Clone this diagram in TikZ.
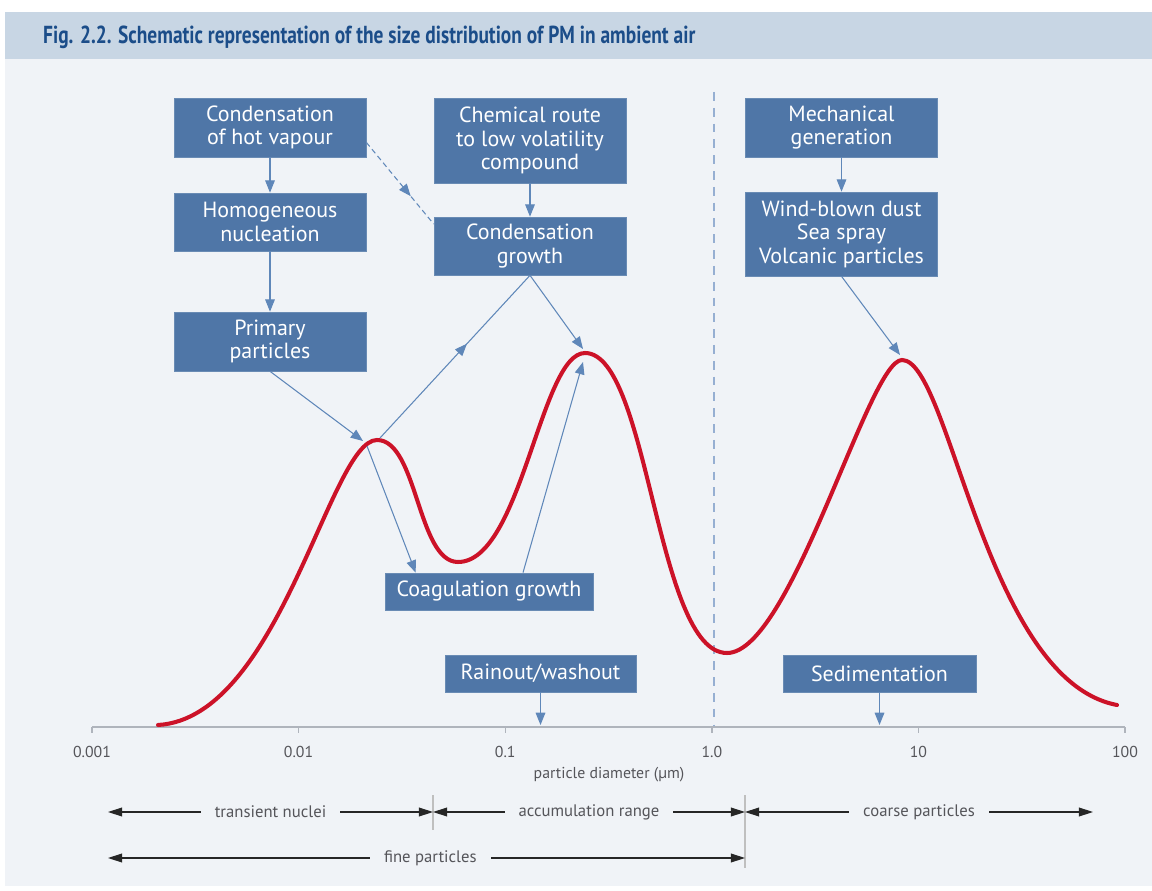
\documentclass[tikz,border=0pt]{standalone}
\usepackage{fontspec}
\setmainfont{PT Sans}
\newfontfamily\titlefont{PT Sans}[FakeStretch=0.79]
\usetikzlibrary{arrows.meta,calc,decorations.markings}
\definecolor{boxblue}{RGB}{79,118,167}
\definecolor{arrblue}{RGB}{95,135,185}
\definecolor{panelbg}{RGB}{240,243,247}
\definecolor{titlebg}{RGB}{200,214,228}
\definecolor{titleblue}{RGB}{27,77,137}
\definecolor{curvered}{RGB}{204,18,40}
\definecolor{dashblue}{RGB}{150,175,210}
\definecolor{axisgray}{RGB}{175,180,188}
\definecolor{labgray}{RGB}{85,85,90}
\begin{document}
\begin{tikzpicture}[x=0.02cm,y=-0.02cm,
  box/.style={fill=boxblue,draw=boxblue!85!white,text=white,align=center,minimum width=3.84cm,
    font=\fontsize{12.5}{13.4}\selectfont,inner sep=2pt},
  blu/.style={draw=arrblue,line width=0.6pt,-{Triangle[length=7pt,width=5.5pt]}},
  midarr/.style={draw=arrblue,line width=0.6pt,postaction={decorate},
    decoration={markings,mark=at position #1 with {\arrow{Triangle[length=7pt,width=5.5pt]}}}},
  spanarr/.style={draw=black!85,line width=0.6pt,{Triangle[length=8pt,width=5pt]}-{Triangle[length=8pt,width=5pt]}},
  rlab/.style={fill=panelbg,text=labgray,font=\fontsize{9.5}{11}\selectfont,inner xsep=8pt,inner ysep=1pt},
  ticklab/.style={text=labgray,font=\fontsize{9}{10}\selectfont}]
% Sfondo e titolo
\fill[white](0,0)rectangle(1152,891);
\fill[panelbg](5,12)rectangle(1152,886);
\fill[titlebg](5,12)rectangle(1152,59);
\node[anchor=west,text=titleblue,font=\titlefont\bfseries\fontsize{14}{16}\selectfont](title)at(37,37)
  {Fig. 2.2. Schematic representation of the size distribution of PM in ambient air};
% Linea tratteggiata a 1.0
\draw[dashblue,line width=0.8pt,dash pattern=on 5pt off 4pt](714,92)--(714,726);
% Asse
\draw[axisgray,line width=1pt](92,727)--(1125,727);
\foreach \i/\lab in {0/0.001,1/0.01,2/0.1,3/1.0,4/10,5/100}{
  \draw[axisgray,line width=0.8pt](92+206.6*\i,727)--(92+206.6*\i,733);
  \node[ticklab](tick \i)at(92+206.6*\i,752){\lab};}
\node[ticklab](axis label)at(609,775){particle diameter (µm)};
% Curva
\draw[curvered,line width=2.3pt,line cap=round](158,725)
  ..controls(280,718)and(330,440)..(377,440)
  ..controls(417.5,440)and(417.5,562)..(458,562)
  ..controls(521.5,562)and(540.5,353)..(585,353)
  ..controls(649,353)and(656,653)..(727,653)
  ..controls(791,653)and(868.6,360)..(902,360)
  ..controls(950,360)and(985,680)..(1117,705);
\coordinate(peak1)at(363,441);
\coordinate(peak2)at(583,349);
\coordinate(peak3)at(900,355);
% Nodi
\draw(270,127.5)node[box,minimum height=1.18cm](node cond){Condensation\\of hot vapour}
     (270,222)node[box,minimum height=1.16cm](node homo){Homogeneous\\nucleation}
     (270,341.5)node[box,minimum height=1.18cm](node prim){Primary\\particles}
     (530,140.5)node[box,minimum height=1.7cm](node chem){Chemical route\\to low volatility\\compound}
     (530,246)node[box,minimum height=1.16cm](node cgrowth){Condensation\\growth}
     (841.5,127.5)node[box,minimum height=1.18cm](node mech){Mechanical\\generation}
     (841.5,234)node[box,minimum height=1.68cm](node wind){Wind-blown dust\\Sea spray\\Volcanic particles}
     (489,591.5)node[box,minimum height=0.74cm,minimum width=4.16cm](node coag){Coagulation growth}
     (540.5,673.5)node[box,minimum height=0.74cm,minimum width=3.82cm](node rain){Rainout/washout}
     (879.5,673.5)node[box,minimum height=0.74cm,minimum width=3.86cm](node sedi){Sedimentation};
% Frecce
\draw[blu](node cond)--(node homo);
\draw[blu](node homo)--(node prim);
\draw[blu](node chem)--(node cgrowth);
\draw[blu](node mech)--(node wind);
\draw[midarr=0.66,dash pattern=on 3pt off 2pt]($(node cond.east)!0.5!(node cond.south east)$)--($(node cgrowth.north west)!0.25!(node cgrowth.west)$);
\draw[blu](node prim.south)--(peak1);
\draw[blu]($(peak1)+(4,5)$)--($(node coag.north west)+(31,0)$);
\draw[midarr=0.58]($(peak1)+(17,-3)$)--(node cgrowth.south);
\draw[blu](node cgrowth.south)--(peak2);
\draw[blu]($(node coag.north)+(34,0)$)--($(peak2)+(0,13)$);
\draw[blu](node wind.south)--(peak3);
\coordinate(ax rain)at(540.5,725);
\coordinate(ax sedi)at(879.5,725);
\draw[blu](node rain)--(ax rain);
\draw[blu](node sedi)--(ax sedi);
% Intervalli
\draw[black!25,line width=0.8pt](433,795)--(433,830);
\draw[black!25,line width=1.6pt](745,795)--(745,868);
\coordinate(r0)at(108,812);
\coordinate(r1)at(433,812);
\coordinate(r2)at(745,812);
\coordinate(r3)at(1093,812);
\coordinate(f0)at(108,858);
\coordinate(f1)at(745,858);
\draw[spanarr](r0)--(r1)node[rlab,midway](lab nuclei){transient nuclei};
\draw[spanarr](r1)--(r2)node[rlab,midway](lab accum){accumulation range};
\draw[spanarr](r2)--(r3)node[rlab,midway](lab coarse){coarse particles};
\draw[spanarr](f0)--(f1)node[rlab,pos=0.506](lab fine){fine particles};
\end{tikzpicture}
\end{document}
